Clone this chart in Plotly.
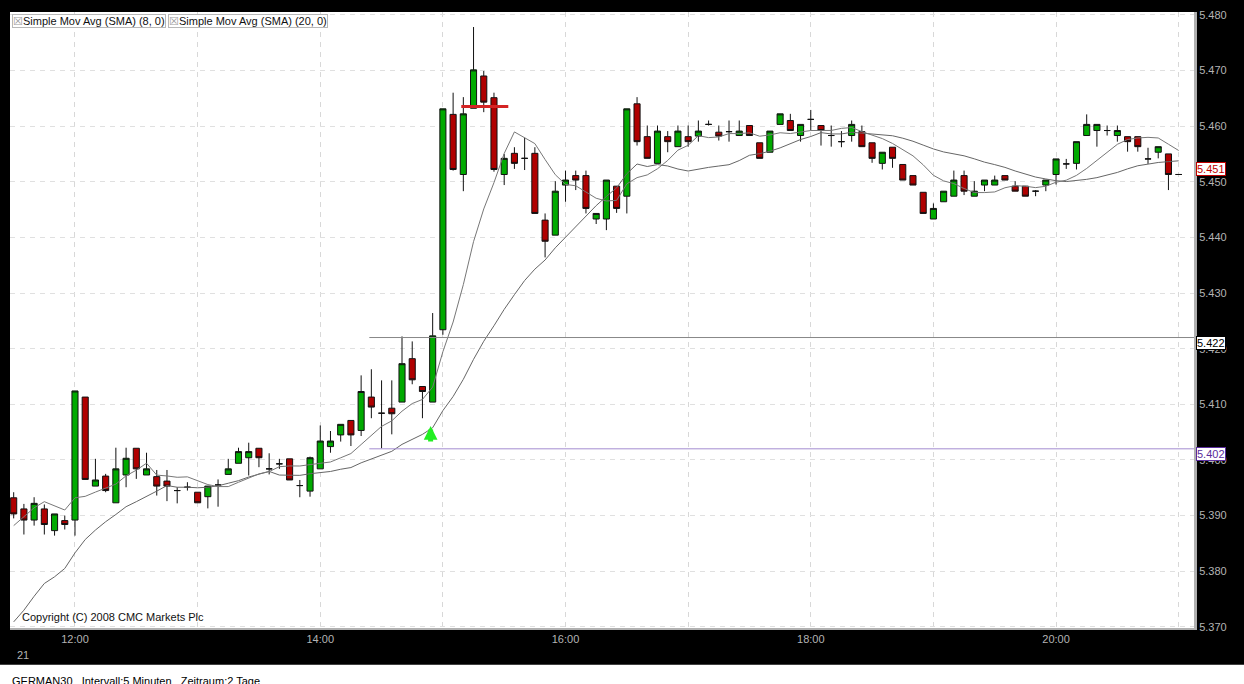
import pandas as pd
import plotly.graph_objects as go

# GERMAN30, 5 minute bars
start = "2009-08-21 11:30"
opens = [5393.2, 5391.2, 5389.2, 5391.2, 5387.3, 5389.1, 5389.2, 5411.3, 5395.3, 5397.1,
         5392.3, 5397.3, 5402.1, 5397.3, 5397.0, 5396.2, 5394.5, 5395.1, 5394.2, 5393.4,
         5395.5, 5397.4, 5399.4, 5400.4, 5402.1, 5398.4, 5399.3, 5400.2, 5395.4, 5394.4,
         5398.4, 5402.4, 5404.5, 5407.1, 5405.3, 5411.3, 5408.4, 5409.3, 5410.4, 5418.2,
         5413.2, 5410.4, 5423.4, 5462.1, 5451.3, 5463.2, 5469.0, 5465.1, 5451.3, 5455.1,
         5454.2, 5455.1, 5443.1, 5440.4, 5449.4, 5451.1, 5451.1, 5443.3, 5443.3, 5449.2,
         5447.4, 5464.0, 5458.1, 5453.3, 5458.1, 5456.3, 5458.1, 5458.2, 5460.3, 5458.9,
         5459.0, 5458.3, 5460.1, 5457.0, 5455.3, 5460.3, 5461.0, 5458.3, 5461.2, 5460.1,
         5458.3, 5457.2, 5458.3, 5459.0, 5457.0, 5453.3, 5456.2, 5453.1, 5451.1, 5448.1,
         5443.3, 5446.4, 5447.4, 5451.1, 5447.4, 5449.4, 5449.4, 5451.1, 5449.2, 5449.2,
         5448.3, 5449.4, 5451.3, 5453.2, 5453.3, 5458.3, 5459.2, 5459.2, 5458.3, 5458.1,
         5458.1, 5454.1, 5455.3, 5455.0, 5451.3]
highs = [5394.2, 5392.1, 5393.3, 5392.0, 5390.3, 5390.0, 5412.4, 5411.3, 5400.2, 5397.5,
         5402.2, 5402.2, 5402.1, 5401.3, 5398.2, 5398.2, 5395.1, 5396.0, 5394.2, 5395.3,
         5396.5, 5400.2, 5402.2, 5403.1, 5402.1, 5401.2, 5400.2, 5400.2, 5396.4, 5400.6,
         5406.2, 5405.2, 5406.4, 5407.1, 5415.2, 5416.3, 5414.3, 5414.3, 5422.2, 5421.3,
         5413.2, 5426.4, 5463.1, 5466.0, 5465.2, 5477.8, 5469.9, 5466.0, 5455.0, 5456.2,
         5457.9, 5456.2, 5444.3, 5450.1, 5452.0, 5452.0, 5452.0, 5444.3, 5450.3, 5449.2,
         5463.1, 5465.2, 5460.1, 5460.1, 5459.1, 5460.1, 5460.1, 5461.0, 5461.0, 5460.1,
         5461.0, 5461.0, 5460.1, 5457.0, 5459.1, 5462.2, 5462.2, 5460.3, 5462.9, 5460.1,
         5460.1, 5459.1, 5461.0, 5460.1, 5457.0, 5455.3, 5456.2, 5453.1, 5451.1, 5448.1,
         5446.1, 5448.3, 5452.0, 5452.0, 5450.1, 5450.3, 5451.1, 5451.1, 5450.1, 5449.2,
         5448.5, 5450.3, 5454.1, 5454.1, 5457.2, 5462.1, 5460.3, 5460.1, 5460.1, 5458.1,
         5458.1, 5456.1, 5456.3, 5455.0, 5451.3]
lows = [5389.5, 5386.6, 5388.2, 5386.6, 5386.4, 5387.5, 5386.4, 5396.5, 5395.3, 5394.2,
        5392.3, 5395.1, 5396.6, 5397.3, 5393.6, 5392.6, 5392.2, 5394.5, 5392.3, 5391.3,
        5391.6, 5397.4, 5399.4, 5397.2, 5398.7, 5397.4, 5398.4, 5396.4, 5393.3, 5393.4,
        5398.4, 5401.3, 5403.3, 5402.5, 5404.3, 5407.5, 5402.1, 5404.6, 5410.4, 5413.6,
        5407.5, 5410.4, 5422.5, 5452.0, 5448.3, 5463.2, 5462.5, 5451.8, 5449.4, 5452.3,
        5452.1, 5444.3, 5436.4, 5440.4, 5446.4, 5448.5, 5444.3, 5442.4, 5441.3, 5444.4,
        5444.3, 5456.5, 5454.2, 5453.3, 5455.3, 5456.3, 5456.3, 5457.2, 5460.1, 5457.4,
        5457.2, 5458.3, 5458.3, 5454.2, 5455.3, 5460.3, 5459.2, 5457.2, 5459.2, 5456.5,
        5456.3, 5456.2, 5457.2, 5456.3, 5453.4, 5452.2, 5452.5, 5450.3, 5449.4, 5444.3,
        5443.3, 5446.4, 5447.4, 5447.6, 5447.4, 5448.3, 5449.4, 5450.3, 5448.3, 5447.4,
        5447.4, 5448.3, 5449.5, 5452.3, 5452.2, 5458.3, 5456.3, 5458.3, 5457.2, 5455.4,
        5455.4, 5453.2, 5454.2, 5448.5, 5451.3]
closes = [5390.3, 5389.2, 5392.2, 5388.4, 5390.3, 5388.4, 5412.4, 5396.5, 5396.4, 5394.5,
          5398.4, 5400.3, 5398.4, 5398.4, 5395.3, 5395.3, 5394.5, 5395.1, 5392.3, 5395.3,
          5395.5, 5398.4, 5401.5, 5401.5, 5400.4, 5398.4, 5399.3, 5396.4, 5395.4, 5400.4,
          5403.4, 5403.4, 5406.4, 5404.5, 5412.3, 5409.5, 5408.4, 5408.3, 5417.3, 5414.4,
          5412.3, 5422.3, 5463.1, 5452.2, 5462.2, 5470.1, 5464.3, 5452.2, 5454.2, 5453.3,
          5454.2, 5444.3, 5439.3, 5448.3, 5450.3, 5450.3, 5445.2, 5444.3, 5450.3, 5445.2,
          5463.1, 5457.2, 5454.2, 5459.1, 5457.2, 5459.1, 5457.2, 5459.1, 5460.3, 5458.2,
          5459.0, 5459.1, 5458.3, 5454.2, 5459.1, 5462.2, 5459.2, 5460.3, 5461.2, 5459.2,
          5458.3, 5457.2, 5460.3, 5456.3, 5454.2, 5455.3, 5454.2, 5450.3, 5449.4, 5444.3,
          5445.2, 5448.3, 5450.3, 5448.3, 5448.3, 5450.3, 5450.3, 5450.3, 5448.3, 5447.4,
          5448.3, 5450.3, 5454.1, 5453.2, 5457.2, 5460.3, 5460.3, 5459.2, 5459.2, 5457.2,
          5456.3, 5454.1, 5456.3, 5451.3, 5451.3]

# averages of the first bars use data before the visible window
sma8_head = [5388.2, 5389.8, 5391.4, 5392.5, 5391.8, 5391.0, 5393.2]
sma20_head = [5370.9, 5373.0, 5375.5, 5377.8, 5379.0, 5380.5, 5383.3, 5385.7, 5387.4, 5388.9,
              5390.2, 5391.6, 5392.5, 5393.4, 5394.4, 5395.4, 5395.1, 5395.1, 5395.0]

line_hi = 5422
line_lo = 5402
stop_level = 5463.5

times = pd.date_range(start, periods=len(closes), freq="5min")
close_s = pd.Series(closes)
sma8 = close_s.rolling(8).mean()
sma8.iloc[:len(sma8_head)] = sma8_head
sma20 = close_s.rolling(20).mean()
sma20.iloc[:len(sma20_head)] = sma20_head


def dot_fmt(v):
    return f"{v:,.0f}".replace(",", ".")


FONT = "Liberation Sans, Arial, sans-serif"
x_end = "2009-08-21 21:07:30"

fig = go.Figure()
fig.add_trace(go.Candlestick(x=times, open=opens, high=highs, low=lows, close=closes,
                             increasing=dict(fillcolor="#00aa00", line=dict(color="#111111", width=1)),
                             decreasing=dict(fillcolor="#b00000", line=dict(color="#111111", width=1)),
                             whiskerwidth=0, showlegend=False, hoverinfo="skip"))
fig.add_trace(go.Scatter(x=times, y=sma20, mode="lines", line=dict(color="#666666", width=1),
                         showlegend=False, hoverinfo="skip"))
fig.add_trace(go.Scatter(x=times, y=sma8, mode="lines", line=dict(color="#777777", width=1),
                         showlegend=False, hoverinfo="skip"))

# horizontal levels
fig.add_shape(type="line", xref="x", yref="y", x0="2009-08-21 14:24", x1=x_end, y0=line_hi, y1=line_hi,
              line=dict(color="#888888", width=1))
fig.add_shape(type="line", xref="x", yref="y", x0="2009-08-21 14:24", x1=x_end, y0=line_lo, y1=line_lo,
              line=dict(color="#a48cd0", width=1))
fig.add_shape(type="line", xref="x", yref="y", x0="2009-08-21 15:09", x1="2009-08-21 15:32",
              y0=stop_level, y1=stop_level, line=dict(color="#d42424", width=3))

# white strip under the chart
fig.add_shape(type="rect", xref="paper", yref="paper", x0=-0.02, x1=1.05, y0=-0.12, y1=-0.0598,
              fillcolor="white", line=dict(width=0), layer="above")

# buy arrow
fig.add_annotation(x="2009-08-21 14:54", y=5406.1, ax=0, ay=17, text="", showarrow=True,
                   arrowhead=2, arrowsize=0.55, arrowwidth=5, arrowcolor="#22ee22", standoff=0)

# indicator tags
for xpos, label in [(0.0017, "Simple Mov Avg (SMA) (8, 0)"), (0.1333, "Simple Mov Avg (SMA) (20, 0)")]:
    fig.add_annotation(xref="paper", yref="paper", x=xpos, y=0.9968, xanchor="left", yanchor="top",
                       text="<span style='color:#999999'>☒</span>" + label, showarrow=False,
                       font=dict(family=FONT, size=11, color="#111111"), bgcolor="white",
                       bordercolor="#b8b8b8", borderwidth=1, borderpad=0)

fig.add_annotation(xref="paper", yref="paper", x=0.0084, y=0.0178, xanchor="left", yanchor="middle",
                   text="Copyright (C) 2008 CMC Markets Plc", showarrow=False,
                   font=dict(family=FONT, size=11, color="#111111"))

# price boxes on the axis
fig.add_annotation(xref="paper", yref="y", x=1, y=line_hi, xanchor="left", yanchor="top", yshift=2,
                   text=dot_fmt(line_hi), showarrow=False, font=dict(family=FONT, size=11, color="black"),
                   bgcolor="white", bordercolor="black", borderwidth=1, borderpad=0, xshift=2)
fig.add_annotation(xref="paper", yref="y", x=1, y=line_lo, xanchor="left", yanchor="top", yshift=2,
                   text=dot_fmt(line_lo), showarrow=False, font=dict(family=FONT, size=11, color="#5a2d9c"),
                   bgcolor="white", bordercolor="#5a2d9c", borderwidth=1, borderpad=0, xshift=2)
fig.add_annotation(xref="paper", yref="y", x=1, y=closes[-1], xanchor="left", yanchor="bottom", yshift=-2,
                   text=dot_fmt(closes[-1]), showarrow=False, font=dict(family=FONT, size=11, color="#c00000"),
                   bgcolor="white", bordercolor="#c00000", borderwidth=1, borderpad=0, xshift=2)

fig.add_annotation(xref="paper", yref="paper", x=0.004, y=-0.0436, xanchor="left", yanchor="middle",
                   text="21", showarrow=False, font=dict(family=FONT, size=11, color="#b4b4b4"))
fig.add_annotation(xref="paper", yref="paper", x=0.0, y=-0.0727, xanchor="left", yanchor="top",
                   text="GERMAN30   Intervall:5 Minuten   Zeitraum:2 Tage", showarrow=False,
                   font=dict(family=FONT, size=11, color="black"))

fig.update_layout(width=1244, height=684, margin=dict(l=10, r=50, t=9, b=56),
                  paper_bgcolor="black", plot_bgcolor="white", separators=",.",
                  boxgap=0.15, hovermode=False, showlegend=False,
                  font=dict(family=FONT, size=11, color="#b4b4b4"))
fig.update_xaxes(range=["2009-08-21 11:28:12", x_end], rangeslider_visible=False,
                 tickformat="%H:%M", dtick=7200000, tick0="2009-08-21 12:00", ticks="",
                 showgrid=True, gridcolor="#d8d8d8", griddash="5px,5px", gridwidth=1,
                 minor=dict(dtick=3600000, tick0="2009-08-21 12:00", showgrid=True,
                            gridcolor="#d8d8d8", griddash="5px,5px", gridwidth=1),
                 showline=True, linecolor="#b0b0b0", linewidth=2, zeroline=False,
                 tickfont=dict(family=FONT, size=11, color="#b4b4b4"))
fig.update_yaxes(range=[5369.8, 5480.5], side="right", dtick=10, tick0=5370, tickformat=",d",
                 ticks="", showgrid=True, gridcolor="#e0e0e0", griddash="5px,5px", gridwidth=1,
                 showline=True, linecolor="#b0b0b0", linewidth=3, zeroline=False,
                 tickfont=dict(family=FONT, size=11, color="#b4b4b4"))

fig.write_html("out.html", config={"displayModeBar": False},
               post_script="document.body.style.margin='0';")
